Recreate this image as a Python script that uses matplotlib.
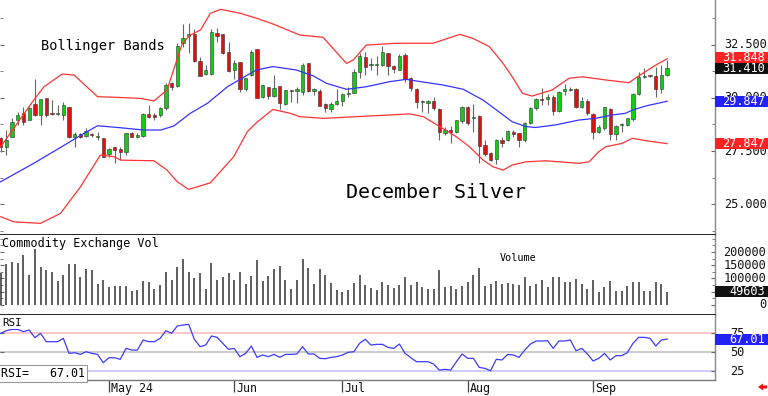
import matplotlib
matplotlib.use("Agg")
import matplotlib.pyplot as plt
from matplotlib.patches import Rectangle, Polygon
import numpy as np

plt.rcParams['font.family'] = 'DejaVu Sans Mono'

# daily OHLC, December silver (bar index 0 .. 117)
opens = [28.10, 27.70, 28.17, 28.96, 29.28, 28.96, 29.71, 29.20, 30.01, 29.25,
         29.23, 29.20, 29.56, 28.14, 28.29, 28.21, 28.27, 28.17, 28.10, 27.36,
         27.70, 27.59, 27.47, 28.33, 28.14, 28.21, 29.25, 29.20, 29.20, 29.51,
         30.69, 30.56, 32.58, 32.92, 33.02, 31.76, 31.13, 31.13, 33.08, 33.00,
         32.18, 31.32, 31.71, 30.41, 31.08, 32.29, 30.06, 30.50, 30.09, 30.56,
         29.71, 30.36, 30.33, 30.30, 31.63, 30.33, 30.35, 29.71, 29.46, 29.71,
         29.87, 30.19, 30.25, 31.24, 31.92, 31.56, 31.56, 31.56, 32.14, 31.51,
         31.32, 32.03, 30.93, 30.41, 29.82, 29.75, 29.87, 29.46, 28.37, 28.49,
         28.41, 28.93, 29.59, 29.04, 29.15, 27.78, 27.42, 27.10, 28.02, 28.02,
         28.41, 28.37, 28.02, 28.84, 29.51, 29.92, 29.94, 30.06, 29.40, 30.35,
         30.38, 30.41, 29.56, 29.87, 29.25, 28.41, 28.57, 29.46, 28.30, 28.72,
         28.73, 29.00, 30.19, 30.97, 31.05, 31.04, 30.41, 31.08]
highs = [28.17, 28.49, 29.04, 29.36, 29.59, 29.59, 30.88, 29.94, 30.01, 29.90,
         29.67, 29.82, 29.56, 28.41, 28.33, 28.57, 28.33, 28.41, 28.10, 27.63,
         27.70, 27.70, 28.37, 28.38, 28.33, 29.28, 29.67, 29.28, 29.59, 30.69,
         30.77, 32.61, 33.49, 33.52, 33.24, 31.95, 31.56, 33.24, 33.28, 33.00,
         32.66, 31.79, 31.71, 30.93, 32.26, 32.29, 30.61, 30.50, 31.08, 30.56,
         30.38, 30.38, 30.50, 31.67, 31.67, 30.46, 30.41, 29.75, 29.82, 30.41,
         30.22, 30.50, 31.35, 32.14, 32.18, 31.87, 31.98, 32.45, 32.14, 31.56,
         32.07, 32.10, 30.97, 30.46, 29.90, 29.90, 30.06, 29.51, 28.65, 28.68,
         28.96, 29.62, 29.62, 29.71, 29.20, 28.02, 27.47, 28.05, 28.14, 28.49,
         28.49, 28.37, 28.88, 29.56, 29.98, 30.46, 30.19, 30.14, 30.35, 30.66,
         30.50, 30.46, 30.06, 29.94, 29.28, 28.73, 29.59, 29.51, 28.73, 28.80,
         29.04, 30.22, 31.24, 31.40, 31.08, 31.48, 31.56, 31.79]
lows = [27.47, 27.31, 28.17, 28.73, 28.73, 28.96, 29.15, 28.73, 29.12, 29.20,
        29.20, 28.96, 28.10, 27.70, 28.10, 28.17, 28.17, 28.02, 27.20, 27.23,
        26.95, 27.07, 27.31, 28.14, 28.10, 28.17, 29.04, 28.96, 29.12, 29.43,
        30.38, 30.50, 32.42, 32.10, 31.71, 31.04, 31.08, 31.08, 32.66, 32.07,
        31.24, 30.88, 30.30, 30.35, 31.04, 29.98, 29.98, 29.94, 30.06, 29.46,
        29.67, 29.82, 29.75, 30.14, 30.30, 30.14, 29.62, 29.36, 29.36, 29.67,
        29.62, 30.06, 30.22, 30.93, 31.08, 31.32, 31.08, 31.51, 31.08, 31.19,
        31.32, 30.77, 30.35, 29.51, 29.36, 29.28, 29.43, 28.02, 28.25, 27.86,
        28.37, 28.84, 28.73, 28.41, 26.95, 27.26, 27.04, 26.89, 27.70, 27.99,
        28.17, 27.67, 27.94, 28.77, 29.43, 29.67, 29.67, 29.20, 29.36, 30.14,
        30.35, 29.51, 29.51, 29.20, 28.05, 28.37, 28.49, 28.02, 28.02, 28.41,
        28.68, 28.93, 30.14, 30.93, 30.97, 30.03, 30.22, 31.04]
closes = [27.70, 28.02, 28.88, 29.20, 28.88, 29.51, 29.20, 29.94, 29.20, 29.23,
          29.25, 29.67, 28.17, 28.29, 28.14, 28.44, 28.25, 28.17, 27.23, 27.58,
          27.55, 27.44, 28.37, 28.17, 28.25, 29.25, 29.12, 29.12, 29.51, 30.61,
          30.50, 32.45, 32.81, 33.02, 31.76, 31.04, 31.32, 33.13, 32.92, 32.14,
          31.29, 31.67, 30.41, 30.93, 32.18, 29.98, 30.61, 30.09, 30.46, 29.75,
          30.38, 30.34, 30.41, 31.56, 30.35, 30.41, 29.62, 29.51, 29.71, 29.87,
          30.19, 30.25, 31.24, 31.98, 31.48, 31.56, 31.56, 32.18, 31.51, 31.35,
          31.98, 30.88, 30.46, 29.82, 29.82, 29.86, 29.51, 28.41, 28.49, 28.41,
          28.96, 29.56, 28.84, 29.04, 27.73, 27.36, 27.07, 28.02, 27.89, 28.44,
          28.30, 28.02, 28.84, 29.51, 29.94, 29.90, 30.06, 29.40, 30.30, 30.41,
          30.44, 29.56, 29.87, 29.28, 28.41, 28.65, 29.56, 28.30, 28.68, 28.74,
          29.04, 30.19, 31.00, 31.04, 31.03, 30.41, 31.08, 31.41]

volume = [120000,
          154000, 164000, 158000, 188000, 112000, 212000, 145000, 132000, 124000, 92000,
          115000, 154000, 154000, 106000, 135000, 132000, 80000, 96000, 68000, 71000,
          71000, 73000, 54000, 58000, 90000, 86000, 60000, 77000, 126000, 96000,
          145000, 173000, 124000, 103000, 119000, 62000, 158000, 94000, 106000, 122000,
          96000, 124000, 80000, 109000, 170000, 90000, 109000, 137000, 147000, 94000,
          62000, 96000, 173000, 141000, 81000, 135000, 113000, 83000, 58000, 49000,
          55000, 83000, 112000, 77000, 64000, 55000, 86000,
          77000, 64000, 77000, 105000, 77000, 86000, 68000, 60000, 60000, 132000,
          67000, 71000, 60000, 71000, 87000, 112000, 141000, 71000, 81000, 90000,
          81000, 83000, 80000, 77000, 105000, 71000, 81000, 96000, 67000, 106000,
          105000, 87000, 87000, 99000, 81000, 60000, 96000, 49000, 68000, 92000,
          51000, 51000, 73000, 86000, 87000, 51000, 51000, 87000, 80000, 49603]

rsi = [74.6, 78.1, 79.8, 79.8, 76.8, 78.9, 68.9, 74.6, 63.6, 63.6,
       63.6, 68.0, 48.2, 49.1, 46.9, 50.4, 48.2, 46.9, 36.0, 42.5,
       42.5, 40.4, 54.8, 52.6, 52.6, 65.8, 63.6, 63.6, 68.0, 78.1,
       74.6, 84.2, 85.5, 86.4, 66.7, 57.0, 59.2, 71.1, 69.3, 61.4,
       53.5, 54.8, 43.9, 48.2, 57.9, 43.0, 46.1, 43.9, 46.9, 43.0,
       46.9, 46.9, 47.4, 57.0, 47.4, 47.4, 41.7, 41.2, 43.0, 43.9,
       46.1, 49.6, 50.4, 61.4, 66.7, 59.2, 60.1, 60.1,
       56.1, 54.8, 60.5, 48.2, 42.5, 37.3, 37.3, 37.3, 34.2, 26.3,
       27.2, 26.3, 37.3, 47.4, 41.7, 41.7, 29.8, 28.5, 25.4, 40.4,
       39.5, 46.9, 46.1, 43.0, 52.6, 60.5, 64.5, 64.5, 64.9, 54.8,
       64.5, 64.5, 65.8, 51.7, 54.8, 47.4, 38.2, 41.7, 48.2, 39.5,
       45.2, 45.2, 49.1, 61.4, 69.3, 69.3, 68.0, 57.9, 65.8, 67.01]

# bollinger band lines, read as (bar index, price) vertices
upper_x = [0, 5.8, 7.6, 10.8, 12.9, 17.0, 20.5, 24.6, 26.9, 29.2, 31.9, 33.3, 35.1, 36.8,
           38.6, 42.1, 44.9, 47.8, 52.5, 56.6, 60.7, 61.9, 64.2, 69.5, 75.9, 80.6, 82.9,
           85.8, 88.2, 89.8, 91.6, 93.3, 96.8, 99.8, 102.1, 106.2, 110.3, 112.0, 115.0, 117]
upper_y = [27.70, 29.90, 30.53, 31.13, 31.08, 30.06, 30.03, 29.98, 29.86, 30.38, 32.58,
           32.97, 33.21, 33.99, 34.18, 33.99, 33.76, 33.49, 32.97, 32.86, 31.63, 31.79,
           32.50, 32.58, 32.58, 33.00, 32.81, 32.42, 31.63, 31.00, 30.22, 30.09, 30.38,
           30.93, 31.00, 30.85, 30.72, 31.04, 31.55, 31.848]
mid_x = [0, 5.8, 11.7, 14.6, 17.0, 20.5, 25.1, 28.1, 30.4, 33.3, 36.3, 39.8, 43.3, 44.9,
         47.8, 51.9, 54.9, 57.2, 60.7, 64.2, 68.3, 71.2, 73.0, 77.7, 81.2, 84.7, 88.2,
         89.8, 92.2, 93.9, 97.4, 101.5, 104.4, 107.4, 109.7, 110.9, 113.2, 117]
mid_y = [26.05, 26.92, 27.86, 28.33, 28.69, 28.61, 28.49, 28.49, 28.68, 29.28, 29.75,
         30.53, 31.08, 31.32, 31.48, 31.32, 31.04, 30.69, 30.41, 30.53, 30.77, 30.88,
         30.80, 30.61, 30.41, 29.90, 29.20, 28.88, 28.65, 28.61, 28.73, 28.96, 29.04,
         29.20, 29.28, 29.43, 29.62, 29.847]
lower_x = [0, 2.3, 7.0, 10.5, 14.0, 17.5, 19.9, 21.1, 26.9, 29.2, 31.0, 33.0, 36.8, 40.9,
           43.3, 44.9, 47.8, 50.8, 52.5, 56.6, 62.5, 68.3, 71.8, 74.2, 77.1, 80.0, 82.3,
           84.7, 86.4, 88.2, 89.8, 92.2, 95.7, 101.5, 103.3, 105.0, 106.2, 109.1, 110.9,
           113.2, 117]
lower_y = [24.40, 24.16, 24.09, 24.56, 25.81, 27.31, 27.23, 27.07, 27.04, 26.60, 26.05,
           25.69, 26.00, 27.23, 28.41, 28.84, 29.46, 29.28, 29.12, 29.04, 29.12, 29.20,
           29.25, 29.12, 28.65, 28.17, 27.70, 27.07, 26.76, 26.60, 26.84, 26.99, 27.04,
           26.92, 26.99, 27.47, 27.70, 27.86, 28.10, 27.99, 27.847]

month_pos = [19, 41, 60, 82, 104]
month_lbl = ["May 24", "Jun", "Jul", "Aug", "Sep"]

price_ticks = [25.0, 27.5, 30.0, 32.5]
vol_ticks = [0, 50000, 100000, 150000, 200000]
rsi_ticks = [25, 50, 75]

W, H = 768, 396
fig = plt.figure(figsize=(W / 100, H / 100), dpi=100)
fig.patch.set_facecolor('white')


def box(top, bottom):
    return [0, 1 - bottom / H, 715 / W, (bottom - top) / H]


ax_p = fig.add_axes(box(0, 235))
ax_v = fig.add_axes(box(235, 315))
ax_r = fig.add_axes(box(315, 380))

x = np.arange(len(closes))
o = np.array(opens)
c = np.array(closes)

for ax in (ax_p, ax_v, ax_r):
    ax.set_xlim(-0.12, 125.4)
    ax.set_facecolor('white')
    ax.spines['top'].set_visible(False)
    ax.spines['left'].set_visible(False)
    ax.spines['right'].set_color('#888888')
    ax.spines['right'].set_linewidth(1.0)
    ax.spines['bottom'].set_color('#111111')
    ax.spines['bottom'].set_linewidth(1.3)
    ax.tick_params(axis='y', which='both', direction='in', left=True, right=True,
                   labelleft=False, labelright=False, color='#666666')
    ax.tick_params(axis='y', which='major', length=3, width=0.8)
    ax.tick_params(axis='y', which='minor', length=2, width=0.6)

ax_p.set_ylim(23.54, 34.62)
ax_v.set_ylim(-37736, 264151)
ax_r.set_ylim(13.2, 98.7)

# candles
up = c >= o
body_low = np.minimum(o, c)
body_h = np.maximum(np.abs(c - o), 0.045)
ax_p.vlines(x, lows, highs, color='#666666', lw=0.8, zorder=2)
ax_p.bar(x, body_h, bottom=body_low, width=0.58,
         color=np.where(up, '#11cc11', '#dd1111'), edgecolor='#333333',
         linewidth=0.4, zorder=3)

ax_p.plot(upper_x, upper_y, color='#ff3333', lw=0.9, zorder=4)
ax_p.plot(lower_x, lower_y, color='#ff3333', lw=0.9, zorder=4)
ax_p.plot(mid_x, mid_y, color='#3333ff', lw=0.9, zorder=4)

ax_p.set_yticks(price_ticks)
ax_p.set_yticks(np.arange(23.75, 34.6, 1.25), minor=True)
ax_p.set_xticks([])

# volume
ax_v.vlines(x, 0, volume, color='#333333', lw=1.1)
ax_v.set_yticks(vol_ticks)
ax_v.set_yticks(np.arange(0, 260000, 25000), minor=True)
ax_v.set_xticks([])

# rsi
ax_r.axhline(75, color='#ffc4c4', lw=1.3, zorder=1)
ax_r.axhline(50, color='#c8c8c8', lw=1.3, zorder=1)
ax_r.axhline(25, color='#c8c8ff', lw=1.3, zorder=1)
ax_r.plot(x, rsi, color='#3b3bff', lw=0.9, zorder=3)
ax_r.set_yticks(rsi_ticks)
ax_r.spines['bottom'].set_color('#777777')
ax_r.spines['bottom'].set_linewidth(1.0)
ax_r.set_xticks(month_pos)
ax_r.tick_params(axis='x', direction='out', length=8.5, width=0.9,
                 color='#444444', labelbottom=False)
for pos, lbl in zip(month_pos, month_lbl):
    ax_r.text(pos + 0.4, -0.125, lbl, transform=ax_r.get_xaxis_transform(),
              ha='left', va='center', fontsize=8.4, color='#111111')

# right axis labels
xr = 724 / 715
for v in price_ticks:
    ax_p.text(xr, v, f"{v:.3f}", transform=ax_p.get_yaxis_transform(),
              ha='left', va='center', fontsize=8.6, color='#111111', clip_on=False)
for v in vol_ticks:
    ax_v.text(766 / 715, v, str(v), transform=ax_v.get_yaxis_transform(),
              ha='right', va='center', fontsize=8.6, color='#111111', clip_on=False)
for v in rsi_ticks:
    ax_r.text(730 / 715, v, str(v), transform=ax_r.get_yaxis_transform(),
              ha='left', va='center', fontsize=8.6, color='#111111', clip_on=False)


def tag(ax, y, text, fc):
    y0, y1 = ax.get_ylim()
    ppu = ax.get_position().height * H / (y1 - y0)
    h = 11 / ppu
    ax.add_patch(Rectangle((1.0, y - h / 2), 53 / 715, h, transform=ax.get_yaxis_transform(),
                           facecolor=fc, edgecolor='none', clip_on=False, zorder=10))
    ax.text(765 / 715, y, text, transform=ax.get_yaxis_transform(), ha='right',
            va='center', fontsize=8.6, color='white', zorder=11, clip_on=False)


tag(ax_p, upper_y[-1] + 0.06, f"{upper_y[-1]:.3f}", '#ff2222')
tag(ax_p, closes[-1], f"{closes[-1]:.3f}", '#111111')
tag(ax_p, mid_y[-1], f"{mid_y[-1]:.3f}", '#2222ff')
tag(ax_p, lower_y[-1], f"{lower_y[-1]:.3f}", '#ff2222')
tag(ax_v, volume[-1], str(volume[-1]), '#111111')
tag(ax_r, rsi[-1], f"{rsi[-1]:.2f}", '#2222ff')

# titles
fig.text(41 / W, 1 - 46 / H, "Bollinger Bands", fontsize=9.8, va='center', ha='left')
fig.text(346 / W, 1 - 193 / H, "December Silver", fontsize=14.4, va='center', ha='left')
fig.text(2 / W, 1 - 243 / H, "Commodity Exchange Vol", fontsize=8.5, va='center', ha='left')
fig.text(500 / W, 1 - 258 / H, "Volume", fontsize=7.3, va='center', ha='left')
fig.text(2 / W, 1 - 323 / H, "RSI", fontsize=7.8, va='center', ha='left',
         bbox=dict(boxstyle='square,pad=0.1', facecolor='white', edgecolor='none'))
fig.text(1 / W, 1 - 373.5 / H, f"RSI=   {rsi[-1]:.2f}", fontsize=8.4, va='center', ha='left',
         bbox=dict(boxstyle='square,pad=0.15', facecolor='white', edgecolor='#999999',
                   linewidth=0.8))

# small red marker arrow, bottom right
arrow_px = [(758, 387), (763, 383.5), (763, 385.5), (767, 385.5),
            (767, 388.5), (763, 388.5), (763, 390.5)]
fig.patches.append(Polygon([(px / W, 1 - py / H) for px, py in arrow_px], closed=True,
                           transform=fig.transFigure, facecolor='#ee1111', edgecolor='none'))

fig.savefig("out.png", dpi=100)
